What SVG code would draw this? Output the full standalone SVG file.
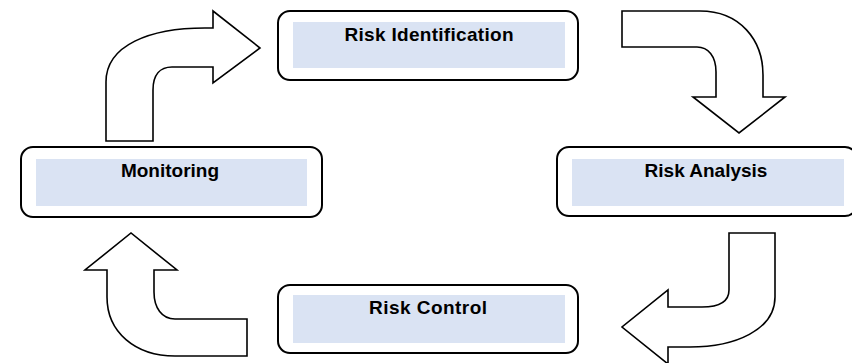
<svg xmlns="http://www.w3.org/2000/svg" width="852" height="363" viewBox="0 0 852 363">
<style>
.outer{fill:#ffffff;stroke:#000000;stroke-width:2}
.inner{fill:#dae3f3;stroke:none}
.lbl{font-family:"Liberation Sans",Arial,sans-serif;font-weight:bold;font-size:19px;fill:#000000;text-anchor:middle}
.arr{fill:#ffffff;stroke:#000000;stroke-width:1.6;stroke-linejoin:miter}
</style>
<rect width="852" height="363" fill="#ffffff"/>
<g id="connectors">
<path class="arr" d="M106,141 L106,82 C106,45 150,28 205,28 L213,28 L213,11 L260,48 L213,83 L213,67 L172,67 C160,67 153,75 153,90 L153,141 Z"/>
<path class="arr" d="M622,11 L700,11 C740,11 763,40 763,75 L763,97 L785,97 L739,133 L693,97 L716,97 L716,72 C716,56 708,47 697,47 L622,47 Z"/>
<path class="arr" d="M729,233 L775,233 L775,297 C775,330 735,347 690,347 L668,347 L668,364 L622,327 L668,290 L668,307 L702,307 C720,307 729,301 729,290 Z"/>
<path class="arr" d="M247,319 L175,319 C162,319 154,308 154,292 L154,270 L177,270 L131,233 L85,270 L107,270 L107,297 C107,332 135,356 175,356 L247,356 Z"/>
</g>
<g id="risk-identification">
<rect class="outer" x="278" y="11" width="300" height="69" rx="12"/>
<rect class="inner" x="293" y="22" width="272" height="46"/>
<text class="lbl" x="429" y="41" textLength="169" lengthAdjust="spacing">Risk Identification</text>
</g>
<g id="risk-analysis">
<rect class="outer" x="557" y="147" width="300" height="69" rx="12"/>
<rect class="inner" x="572" y="159" width="272" height="47"/>
<text class="lbl" x="706" y="177">Risk Analysis</text>
</g>
<g id="risk-control">
<rect class="outer" x="278" y="285" width="300" height="68" rx="12"/>
<rect class="inner" x="293" y="295" width="272" height="48"/>
<text class="lbl" x="428" y="314" textLength="118" lengthAdjust="spacing">Risk Control</text>
</g>
<g id="monitoring">
<rect class="outer" x="21" y="147" width="301" height="70" rx="12"/>
<rect class="inner" x="36" y="159" width="271" height="47"/>
<text class="lbl" x="170" y="177">Monitoring</text>
</g>
</svg>
